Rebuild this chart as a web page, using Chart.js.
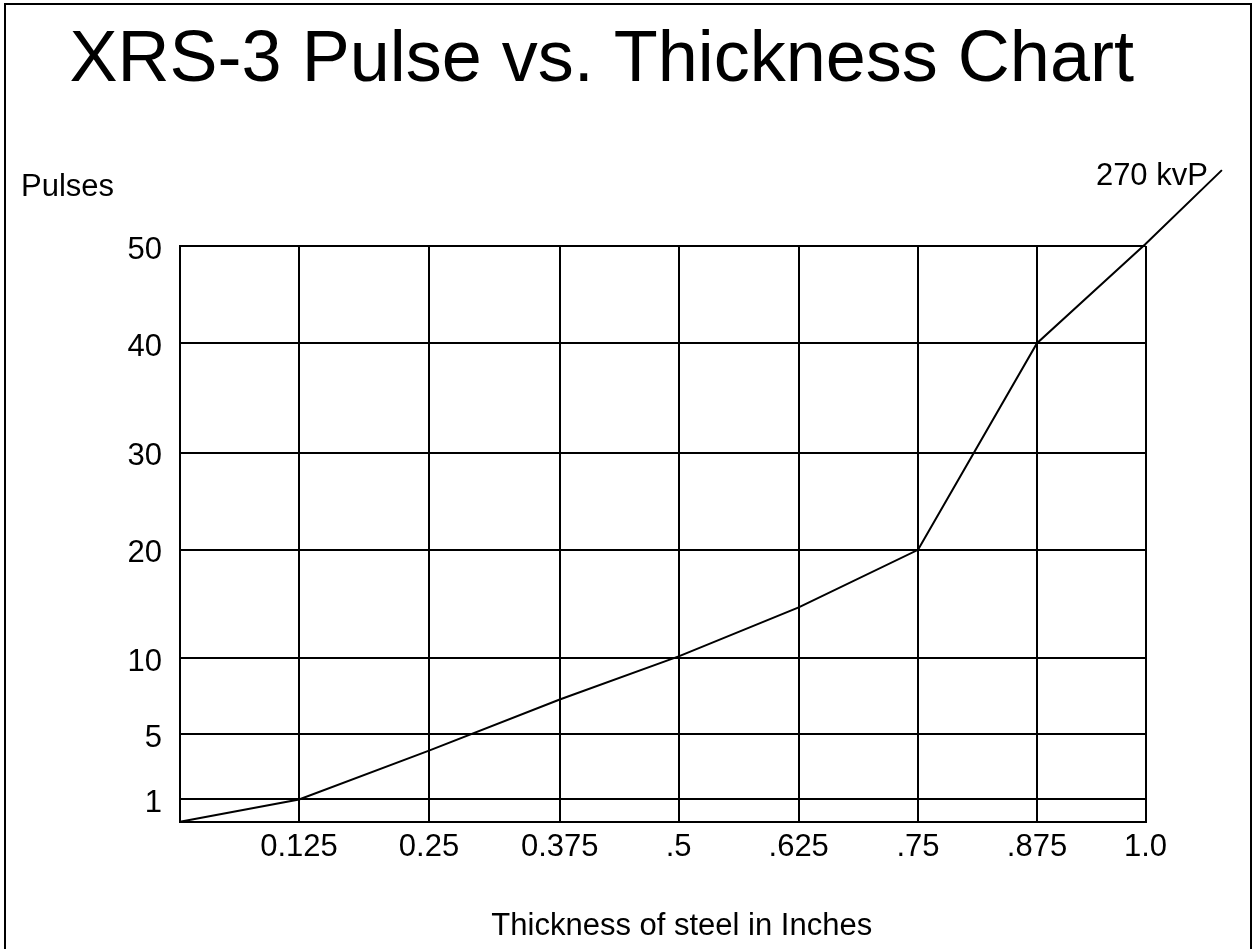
<!DOCTYPE html>
<html>
<head>
<meta charset="utf-8">
<title>XRS-3 Pulse vs. Thickness Chart</title>
<script src="https://cdn.jsdelivr.net/npm/chart.js@4.4.1/dist/chart.umd.min.js"></script>
<style>
    html, body { margin: 0; padding: 0; background: #fff; overflow: hidden; }
    #wrap { position: relative; width: 1255px; height: 949px; }
</style>
</head>
<body>
<div id="wrap"><canvas id="pulseChart"></canvas></div>
<script>
const titleText = 'XRS-3 Pulse vs. Thickness Chart';
const yTitle = 'Pulses';
const xTitle = 'Thickness of steel in Inches';
const seriesLabel = '270 kvP';

// thickness (inches) and pulses, last point is the run-out past the grid
const thickness = [0, 0.125, 0.25, 0.375, 0.5, 0.625, 0.75, 0.875, 1.0, 1.088];
const pulses = [0, 1, 4, 7.3, 10.2, 14.7, 20, 40, 50.2, 57.8];

const xTickValues = [0, 0.125, 0.25, 0.375, 0.5, 0.625, 0.75, 0.875, 1.0];
const xTickLabels = ['', '0.125', '0.25', '0.375', '.5', '.625', '.75', '.875', '1.0'];
const yTickValues = [0, 1, 5, 10, 20, 30, 40, 50];
const yTickLabels = ['', '1', '5', '10', '20', '30', '40', '50'];

// the paper grid is hand ruled: where each tick line sits along its axis (0..1)
const gridStops = {
    x: [0, 0.1233, 0.2579, 0.3933, 0.5165, 0.6408, 0.7644, 0.8876, 1],
    y: [0, 0.0387, 0.1516, 0.2835, 0.4722, 0.6406, 0.8311, 1]
};
const tickValues = { x: xTickValues, y: yTickValues };

function toDecimal(axis, v) {
    const vals = tickValues[axis], pos = gridStops[axis];
    let i = 0;
    while (i < vals.length - 2 && v > vals[i + 1]) i++;
    const t = (v - vals[i]) / (vals[i + 1] - vals[i]);
    return pos[i] + t * (pos[i + 1] - pos[i]);
}

function fromDecimal(axis, d) {
    const vals = tickValues[axis], pos = gridStops[axis];
    let i = 0;
    while (i < pos.length - 2 && d > pos[i + 1]) i++;
    const t = (d - pos[i]) / (pos[i + 1] - pos[i]);
    return vals[i] + t * (vals[i + 1] - vals[i]);
}

// linear scale that follows the ruled grid instead of even spacing
class RuledScale extends Chart.LinearScale {
    getPixelForValue(value) {
        if (value === null || isNaN(value)) return NaN;
        return this.getPixelForDecimal(toDecimal(this.axis, value));
    }
    getValueForPixel(pixel) {
        return fromDecimal(this.axis, this.getDecimalForPixel(pixel));
    }
}
RuledScale.id = 'ruled';
RuledScale.defaults = Chart.LinearScale.defaults;
Chart.register(RuledScale);

Chart.defaults.font.family = '"Liberation Sans", Arial, sans-serif';
Chart.defaults.color = '#000';

const paperText = {
    id: 'paperText',
    beforeDraw(chart) {
        const ctx = chart.ctx;
        ctx.save();
        ctx.strokeStyle = '#000';
        ctx.lineWidth = 2;
        ctx.strokeRect(5, 4, 1246, 1000);
        ctx.restore();
    },
    afterDraw(chart) {
        const {ctx, chartArea} = chart;
        ctx.save();
        ctx.fillStyle = '#000';
        ctx.font = '31px "Liberation Sans", Arial, sans-serif';
        ctx.textBaseline = 'alphabetic';

        ctx.textAlign = 'left';
        ctx.fillText(yTitle, 21, chartArea.top - 50);

        ctx.textAlign = 'center';
        ctx.fillText(xTitle, (chartArea.left + chartArea.right) / 2 + 19, chartArea.bottom + 113);

        const pts = chart.getDatasetMeta(0).data;
        const last = pts[pts.length - 1];
        ctx.textAlign = 'right';
        ctx.fillText(chart.data.datasets[0].label, last.x - 14, last.y + 15);
        ctx.restore();
    }
};

const gridStyle = { color: '#000', lineWidth: 2, drawTicks: false };
const borderStyle = { display: true, color: '#000', width: 2 };

const data = {
    datasets: [{
        label: seriesLabel,
        data: thickness.map((t, i) => ({ x: t, y: pulses[i] })),
        borderColor: '#000',
        borderWidth: 2,
        pointRadius: 0,
        tension: 0,
        fill: false,
        clip: false,
    }],
};

const config = {
    type: 'line',
    data: data,
    options: {
        responsive: true,
        maintainAspectRatio: false,
        animation: false,
        layout: { padding: { left: 58, right: 109.5, top: 0, bottom: 0 } },
        plugins: {
            legend: { display: false },
            tooltip: { enabled: false },
            title: {
                display: true,
                text: titleText,
                color: '#000',
                font: { size: 72, weight: 'normal', lineHeight: 1.2 },
                padding: { top: 18, bottom: 141.6 },
            },
        },
        scales: {
            x: {
                type: 'ruled',
                grid: gridStyle,
                border: borderStyle,
                afterBuildTicks: (scale) => { scale.ticks = xTickValues.map(v => ({ value: v })); },
                afterFit: (scale) => { scale.height = 127.3; },
                ticks: {
                    autoSkip: false,
                    maxRotation: 0,
                    padding: 7,
                    font: { size: 31 },
                    callback: (v, i) => xTickLabels[i],
                },
            },
            y: {
                type: 'ruled',
                min: 0,
                max: 50,
                grid: gridStyle,
                border: borderStyle,
                afterBuildTicks: (scale) => { scale.ticks = yTickValues.map(v => ({ value: v })); },
                afterFit: (scale) => { scale.width = 122; },
                ticks: {
                    autoSkip: false,
                    padding: 18,
                    labelOffset: 4,
                    font: { size: 31 },
                    callback: (v, i) => yTickLabels[i],
                },
            },
        },
    },
    plugins: [paperText],
};

const pulseChart = new Chart(document.getElementById('pulseChart'), config);
</script>
</body>
</html>
